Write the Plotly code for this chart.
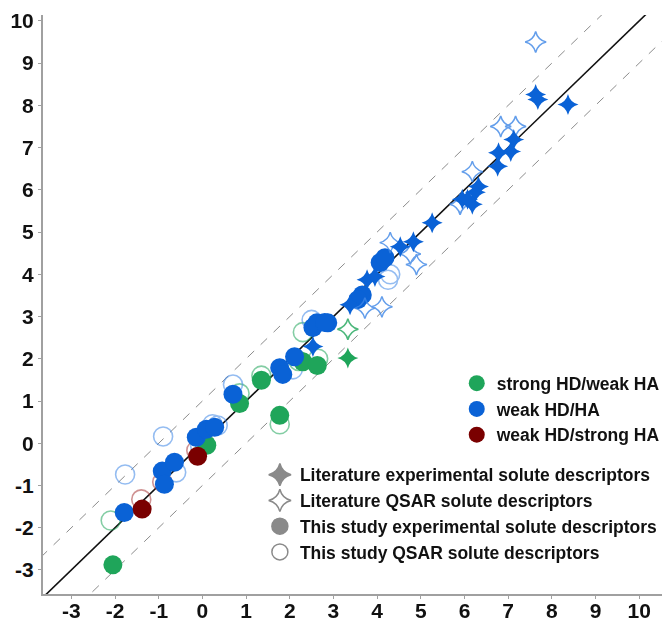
import plotly.graph_objects as go

# ---- data ----
green_exp_x = [-2.05, 0.85, 1.35, 1.77, 2.30, 2.63, 0.10]
green_exp_y = [-2.88, 0.94, 1.49, 0.66, 1.93, 1.84, -0.05]
green_qsar_x = [-2.10, 0.85, 1.35, 1.77, 2.30, 2.65, 0.05, 2.20]
green_qsar_y = [-1.83, 1.18, 1.60, 0.45, 2.63, 2.00, 0.00, 1.95]
green_lit_exp_x = [3.33]
green_lit_exp_y = [2.02]
green_lit_qsar_x = [3.33]
green_lit_qsar_y = [2.70]

red_exp_x = [-1.38, -0.11]
red_exp_y = [-1.56, -0.31]
red_qsar_x = [-1.40, -0.14, -0.92]
red_qsar_y = [-1.33, -0.17, -0.92]

blue_exp_x = [-1.79, -0.92, -0.87, -0.64, -0.14, 0.09, 0.28, 0.70, 1.77, 1.84, 2.11,
              2.53, 2.62, 2.87, 2.80, 4.07, 4.18, 3.66, 3.56]
blue_exp_y = [-1.64, -0.66, -0.97, -0.45, 0.14, 0.33, 0.38, 1.16, 1.79, 1.63, 2.05,
              2.74, 2.85, 2.85, 2.86, 4.28, 4.39, 3.51, 3.40]
blue_qsar_x = [-1.77, -0.90, -0.60, 0.23, 0.70, 2.50, 2.07, 4.30, 4.25, -0.05, 0.35]
blue_qsar_y = [-0.74, 0.16, -0.69, 0.45, 1.39, 2.92, 1.75, 4.00, 3.87, -0.07, 0.42]
blue_lit_exp_x = [2.53, 3.38, 3.77, 4.83, 4.53, 5.26, 5.95, 6.18, 7.63, 7.68, 8.37,
                  7.13, 7.06, 6.78, 6.76, 6.32, 6.25, 6.07, 3.95]
blue_lit_exp_y = [2.29, 3.28, 3.87, 4.77, 4.65, 5.22, 5.78, 5.66, 8.26, 8.14, 8.02,
                  7.19, 6.91, 6.88, 6.56, 6.08, 5.94, 5.78, 3.95]
blue_lit_qsar_x = [7.63, 6.83, 7.17, 6.18, 4.30, 4.90, 4.76, 4.11, 3.72, 5.90]
blue_lit_qsar_y = [9.50, 7.50, 7.50, 6.43, 4.75, 4.23, 4.48, 3.23, 3.20, 5.66]

line_x = [-4, 11]
band_offset = 1.0

category_labels = ["strong HD/weak HA", "weak HD/HA", "weak HD/strong HA"]
type_labels = ["Literature experimental solute descriptors",
               "Literature QSAR solute descriptors",
               "This study experimental solute descriptors",
               "This study QSAR solute descriptors"]
ticks = list(range(-3, 11))

GREEN = "#1fa55a"
BLUE = "#0a62d6"
RED = "#7a0000"
GREY = "#8a8a8a"
FONT = "Arial, Liberation Sans, sans-serif"

fig = go.Figure()

# reference lines
fig.add_trace(go.Scatter(x=line_x, y=[v + band_offset for v in line_x], mode="lines",
                         line=dict(color="#8c8c8c", width=1, dash="dash"), showlegend=False, hoverinfo="skip"))
fig.add_trace(go.Scatter(x=line_x, y=[v - band_offset for v in line_x], mode="lines",
                         line=dict(color="#8c8c8c", width=1, dash="dash"), showlegend=False, hoverinfo="skip"))
fig.add_trace(go.Scatter(x=line_x, y=line_x, mode="lines",
                         line=dict(color="#111111", width=1.6), showlegend=False, hoverinfo="skip"))

CIRC = 19
STAR = 15

def open_circles(x, y, c):
    fig.add_trace(go.Scatter(x=x, y=y, mode="markers", showlegend=False, opacity=0.55,
                             marker=dict(symbol="circle-open", size=CIRC, color=c, line=dict(width=1.6, color=c))))

def filled_circles(x, y, c):
    fig.add_trace(go.Scatter(x=x, y=y, mode="markers", showlegend=False,
                             marker=dict(symbol="circle", size=CIRC, color=c, line=dict(width=0))))

def open_stars(x, y, c):
    fig.add_trace(go.Scatter(x=x, y=y, mode="markers", showlegend=False, opacity=0.8,
                             marker=dict(symbol="star-diamond-open", size=STAR, color=c, line=dict(width=1.5, color=c))))

def filled_stars(x, y, c):
    fig.add_trace(go.Scatter(x=x, y=y, mode="markers", showlegend=False,
                             marker=dict(symbol="star-diamond", size=STAR, color=c, line=dict(width=0))))

open_circles(green_qsar_x, green_qsar_y, GREEN)
open_circles(blue_qsar_x, blue_qsar_y, "#3d86e6")
open_circles(red_qsar_x, red_qsar_y, "#a83a3a")
filled_circles(green_exp_x, green_exp_y, GREEN)
filled_circles(blue_exp_x, blue_exp_y, BLUE)
filled_circles(red_exp_x, red_exp_y, RED)
open_stars(green_lit_qsar_x, green_lit_qsar_y, GREEN)
open_stars(blue_lit_qsar_x, blue_lit_qsar_y, "#3d86e6")
filled_stars(green_lit_exp_x, green_lit_exp_y, GREEN)
filled_stars(blue_lit_exp_x, blue_lit_exp_y, BLUE)

# legend 1: categories
for lab, c in zip(category_labels, [GREEN, BLUE, RED]):
    fig.add_trace(go.Scatter(x=[None], y=[None], mode="markers", name=lab, legend="legend",
                             marker=dict(symbol="circle", size=18, color=c)))
# legend 2: descriptor types
type_symbols = ["star-diamond", "star-diamond-open", "circle", "circle-open"]
for lab, s in zip(type_labels, type_symbols):
    fig.add_trace(go.Scatter(x=[None], y=[None], mode="markers", name=lab, legend="legend2",
                             marker=dict(symbol=s, size=18, color=GREY, line=dict(width=1.5, color=GREY))))

axis_common = dict(showgrid=False, zeroline=False, showline=True, linecolor="#a0a0a0", linewidth=2,
                   ticks="outside", ticklen=3, tickcolor="#a0a0a0", tickwidth=1, automargin=False,
                   tickmode="array", tickvals=ticks, ticktext=[str(t) for t in ticks],
                   tickfont=dict(family=FONT, size=21, color="#111111", weight="bold"))

LEG_FONT = dict(family=FONT, size=17.5, color="#111111", weight="bold")

# the page body adds an 8px offset, so the figure is 8px smaller than the window
fig.update_layout(
    width=662, height=615,
    margin=dict(l=35, r=2, t=7, b=29),
    paper_bgcolor="white", plot_bgcolor="white",
    xaxis=dict(range=[-3.65, 10.66], ticklabelstandoff=-6, **axis_common),
    yaxis=dict(range=[-3.57, 10.14], **axis_common),
    font=dict(family=FONT, size=18, color="#111111"),
    legend=dict(x=0.662, y=0.395, xanchor="left", yanchor="top", bgcolor="rgba(0,0,0,0)",
                font=LEG_FONT, itemsizing="trace", tracegroupgap=0),
    legend2=dict(x=0.347, y=0.237, xanchor="left", yanchor="top", bgcolor="rgba(0,0,0,0)",
                 font=LEG_FONT, itemsizing="trace", tracegroupgap=0),
)

fig.write_html("out.html")
